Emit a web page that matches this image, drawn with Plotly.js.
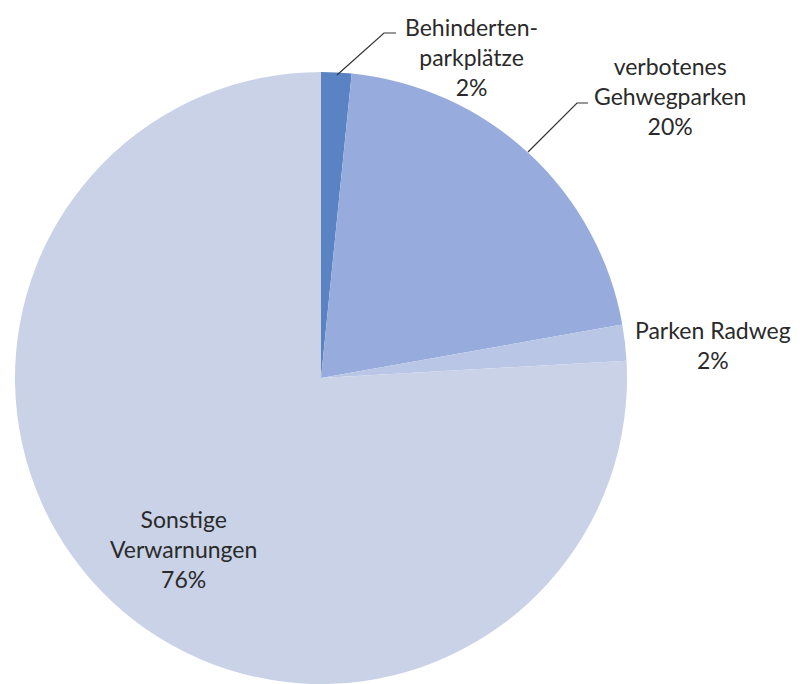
<!DOCTYPE html>
<html>
<head>
<meta charset="utf-8">
<script src="https://cdn.plot.ly/plotly-3.0.1.min.js"></script>
<style>html,body{margin:0;padding:0;background:#fff;}#chart{width:800px;height:684px;}</style>
</head>
<body>
<div id="chart"></div>
<script>
// Data
const labels = ["Behinderten-parkplätze", "verbotenes Gehwegparken", "Parken Radweg", "Sonstige Verwarnungen"];
const labelLines = [["Behinderten-", "parkplätze"], ["verbotenes", "Gehwegparken"], ["Parken Radweg"], ["Sonstige", "Verwarnungen"]];
const values = [1.6, 20.6, 1.9, 75.9];
const percentText = ["2%", "20%", "2%", "76%"];
const colors = ["#5a83c4", "#97acdc", "#b9c6e6", "#c9d2e7"];

const W = 800, H = 684;
const px = x => x / W;
const py = y => 1 - y / H;

// label anchor positions (pixels)
const labelPos = [[471, 57], [670, 96], [713, 345], [183, 549]];

const annotations = labels.map((l, i) => ({
  xref: "paper", yref: "paper",
  x: px(labelPos[i][0]), y: py(labelPos[i][1]),
  xanchor: "center", yanchor: "middle",
  text: labelLines[i].concat([percentText[i]]).join("<br>"),
  showarrow: false, align: "center",
  font: {family: "Lato, 'Open Sans', sans-serif", size: 23, color: "#2a2a2a"}
}));

const leader = (pts) => ({
  type: "path", xref: "paper", yref: "paper",
  path: "M " + pts.map(p => px(p[0]) + "," + py(p[1])).join(" L "),
  line: {color: "#333", width: 1.2}
});

const data = [{
  type: "pie",
  labels: labels,
  values: values,
  sort: false,
  direction: "clockwise",
  rotation: 0,
  marker: {colors: colors, line: {width: 0}},
  textinfo: "none",
  hoverinfo: "label+percent",
  showlegend: false,
  domain: {x: [px(321 - 306), px(321 + 306)], y: [0, 612 / H]}
}];

const layout = {
  width: W, height: H,
  margin: {l: 0, r: 0, t: 0, b: 0},
  paper_bgcolor: "#ffffff",
  annotations: annotations,
  shapes: [
    leader([[337, 75], [384, 33], [396, 33]]),
    leader([[528, 152], [577, 103], [588, 103]])
  ]
};

Plotly.newPlot("chart", data, layout, {displayModeBar: false, staticPlot: true});
</script>
</body>
</html>
